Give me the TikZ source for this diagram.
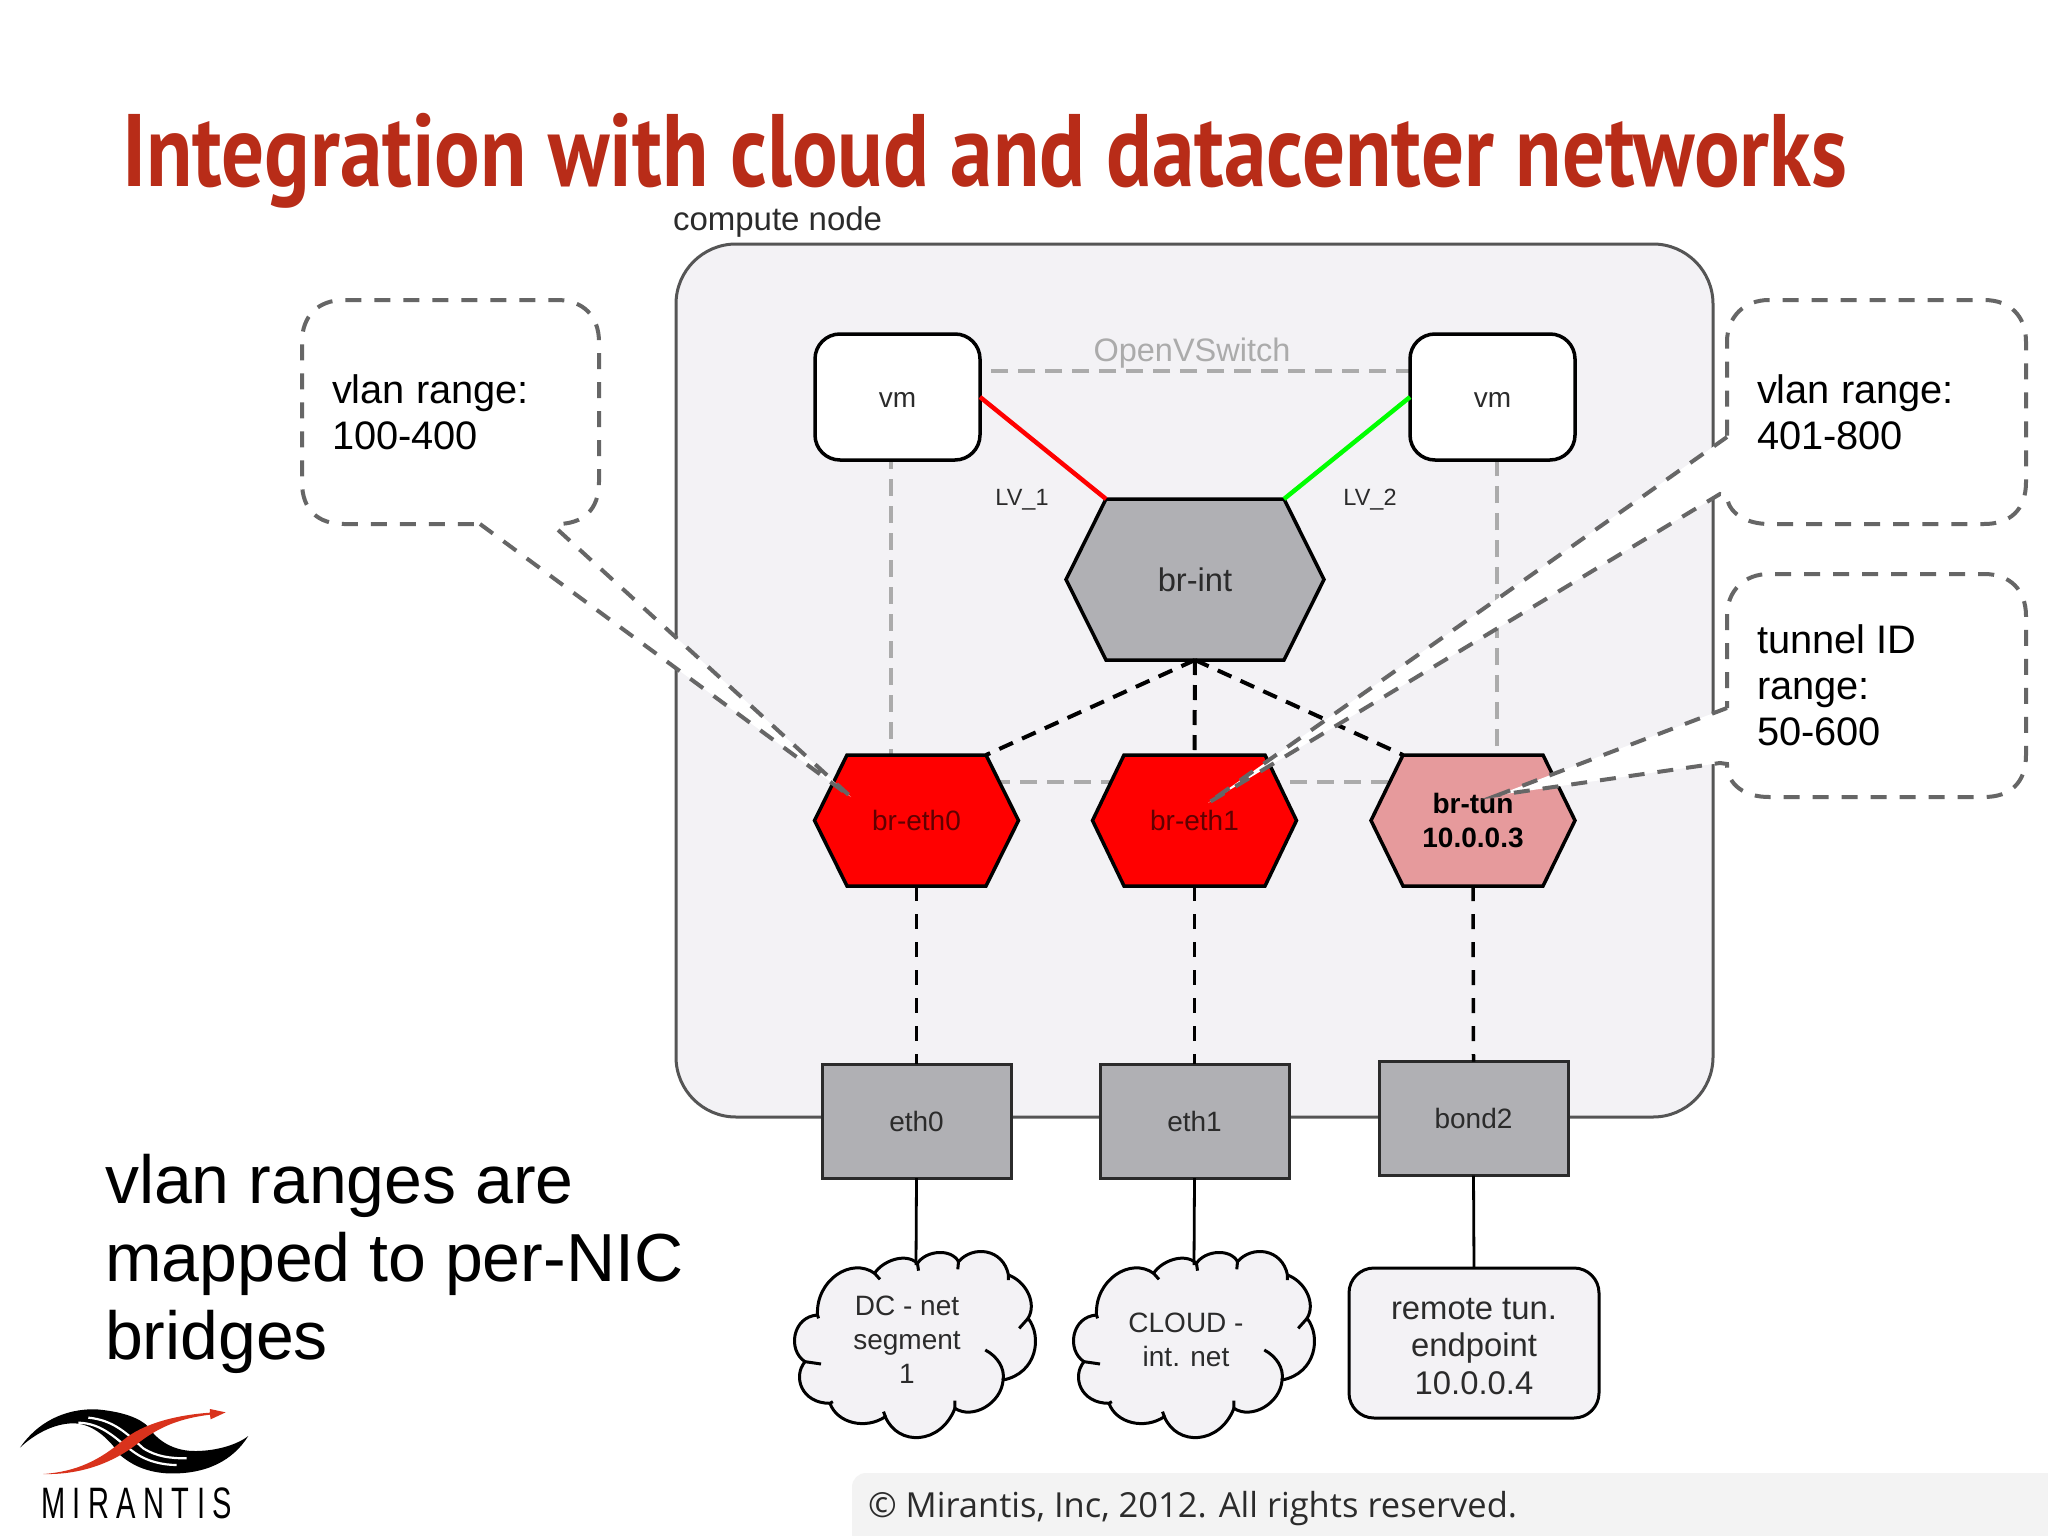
\documentclass[tikz,border=0pt]{standalone}
\usepackage{fontspec}
\setmainfont{Liberation Sans}
\newfontfamily\titlefont[FakeStretch=0.826]{PT Sans}
\newfontfamily\footfont{Open Sans}
\newfontfamily\logofont[FakeStretch=0.66,LetterSpace=17]{Liberation Sans}
\definecolor{panel}{HTML}{F3F2F5}
\definecolor{footgray}{HTML}{F3F3F3}
\definecolor{boxline}{HTML}{555555}
\definecolor{calloutgray}{HTML}{666666}
\definecolor{ovsgray}{HTML}{ABABAB}
\definecolor{titlered}{HTML}{B82C18}
\definecolor{swgray}{HTML}{B0B0B4}
\definecolor{dimtext}{HTML}{2B2B2B}
\definecolor{redtext}{HTML}{600000}
\definecolor{tunfill}{HTML}{E69A9C}
\definecolor{logored}{HTML}{D9321C}
\tikzset{
  every node/.style={inner sep=0pt,outer sep=0pt},
  sz/.style 2 args={font=\fontsize{#1}{#2}\selectfont},
  hexline/.style={draw=black,line width=3.5pt,line join=miter},
  nicbox/.style={draw=dimtext,line width=3pt,fill=swgray,text=dimtext,minimum width=189pt,minimum height=114pt,sz={28}{34}},
  vmbox/.style={draw=black,line width=3.5pt,fill=white,rounded corners=25pt,minimum width=165pt,minimum height=126pt,text=dimtext,text height=20pt,text depth=0pt,sz={28}{34}},
  ctext/.style={text=dimtext,align=center,sz={28}{34}},
  cline/.style={draw=black,line width=4pt,dash pattern=on 15pt off 10pt},
  cvert/.style={draw=black,line width=3.5pt,dash pattern=on 15pt off 13pt},
  callout/.style={draw=calloutgray,fill=white,line width=4pt,dash pattern=on 16pt off 13pt},
  note/.style={align=left,anchor=west,sz={39.8}{46},text=black},
  lvlab/.style={text=dimtext,sz={23.5}{28}},
  solidlink/.style={draw=black,line width=2.8pt},
  cloudpic/.pic={
    \begin{scope}[xscale=0.357,yscale=0.3333]
      \path[draw=black,line width=3pt,fill=panel]
        (265,160) .. controls (285,125) and (350,95) .. (385,130)
        .. controls (410,90) and (480,85) .. (500,125)
        .. controls (540,75) and (625,85) .. (640,165)
        .. controls (690,185) and (720,250) .. (695,295)
        .. controls (735,350) and (720,460) .. (625,480)
        .. controls (620,550) and (540,600) .. (490,565)
        .. controls (450,675) and (330,680) .. (295,590)
        .. controls (240,630) and (160,610) .. (140,550)
        .. controls (60,550) and (35,470) .. (70,425)
        .. controls (20,390) and (35,290) .. (105,285)
        .. controls (100,180) and (200,110) .. (265,160) -- cycle;
      \draw[black,line width=3pt] (385,130)--(388,152) (500,125)--(498,148)
        (640,165)--(640,180) (695,295)--(670,325)
        (575,390) .. controls (610,410) and (630,445) .. (625,480)
        (490,565)--(490,542) (295,590)--(290,575) (140,550)--(148,545)
        (70,425)--(115,432) (105,285)--(108,295) (265,160)--(280,178);
    \end{scope}
  }
}
% name, cx, cy, half width, half inner width, half height, fill, text options, text
\newcommand{\hexnode}[9]{%
  \draw[hexline,fill=#7] (#2-#4,#3) -- (#2-#5,#3-#6) -- (#2+#5,#3-#6) -- (#2+#4,#3) -- (#2+#5,#3+#6) -- (#2-#5,#3+#6) -- cycle;
  \node[minimum width=2*#5*1pt,minimum height=2*#6*1pt,align=center,#8] (#1) at (#2,#3) {#9};
}
\begin{document}
\begin{tikzpicture}[x=1pt,y=-1pt]
\useasboundingbox (0,0) rectangle (2048,1536);
\fill[white] (0,0) rectangle (2048,1536);
% footer
\fill[footgray,rounded corners=14pt] (852,1560) -- (852,1473) -- (2100,1473) -- (2100,1560) -- cycle;
\node[anchor=base west,font=\footfont\fontsize{34.5}{40}\selectfont,text=dimtext] (foot) at (868,1517) {© Mirantis, Inc, 2012. All rights reserved.};
% title
\node[anchor=base west,font=\titlefont\bfseries\fontsize{103}{110}\selectfont,text=titlered] (title) at (122,186) {Integration with cloud and datacenter networks};
% compute node
\node[anchor=base west,sz={33}{38},text=dimtext] (cnlab) at (673,230) {compute node};
\path[draw=boxline,fill=panel,line width=3pt,rounded corners=60pt] (676,244) rectangle (1713,1117);
% OVS
\coordinate (ovsA) at (891,371);
\coordinate (ovsB) at (1497,782);
\draw[ovsgray,line width=4pt,dash pattern=on 17pt off 10pt] (ovsA) rectangle (ovsB);
\node[sz={32.5}{38},text=ovsgray] (ovslab) at (1192,353) {OpenVSwitch};
% vms
\node[vmbox] (vma) at (897.5,397) {vm};
\node[vmbox] (vmb) at (1492.5,397) {vm};
% hexes
\hexnode{brint}{1195}{579.5}{129}{89}{80.5}{swgray}{text=dimtext,sz={32.7}{38}}{br-int}
\hexnode{etha}{916.5}{820.5}{102}{69.5}{65.5}{red}{text=redtext,sz={28}{34}}{br-eth0}
\hexnode{ethb}{1194.5}{820.5}{102}{70.5}{65.5}{red}{text=redtext,sz={28}{34}}{br-eth1}
\hexnode{tun}{1473}{820.5}{102}{70}{65.5}{tunfill}{text=black,font=\bfseries\fontsize{28}{34}\selectfont}{br-tun\\10.0.0.3}
% links to br-int
\draw[red,line width=4.5pt] (vma.east) -- (brint.north west);
\draw[green,line width=4.5pt] (vmb.west) -- (brint.north east);
\node[lvlab] (lva) at (1022,500) {LV\_1};
\node[lvlab] (lvb) at (1370,500) {LV\_2};
\draw[cline] (brint.south) -- (etha.north east);
\draw[cline] (brint.south) -- (ethb.north);
\draw[cline] (brint.south) -- (tun.north west);
% NICs
\node[nicbox] (nica) at (916.5,1121) {eth0};
\node[nicbox] (nicb) at (1194.5,1121) {eth1};
\node[nicbox] (nicc) at (1473.5,1118.5) {bond2};
\draw[cvert] (etha.south) -- (nica.north);
\draw[cvert] (ethb.south) -- (nicb.north);
\draw[cvert] (tun.south) -- (nicc.north);
% clouds
\pic at (780,1220) {cloudpic};
\pic at (1059,1220) {cloudpic};
\coordinate (dctop) at (916,1265);
\coordinate (cltop) at (1194,1265);
\node[ctext] (dc) at (907,1340) {DC - net\\segment\\1};
\node[ctext] (cl) at (1186,1340) {CLOUD -\\int. net};
\draw[solidlink] (nica.south) -- (dctop);
\draw[solidlink] (nicb.south) -- (cltop);
\node[draw=black,line width=3pt,fill=panel,rounded corners=25pt,minimum width=250pt,minimum height=150pt,align=center,text=dimtext,sz={32.8}{37.5}] (remote) at (1474,1343) {\rule{0pt}{28pt}remote tun.\\endpoint\\10.0.0.4};
\draw[solidlink] (nicc.south) -- (remote.north);
% callouts
\coordinate (tipa) at (851,797);
\coordinate (tipb) at (1208,803);
\coordinate (tipc) at (1498,795);
\draw[callout] (480,524) -- (tipa) -- (557,529) -- (557,524) .. controls (583,524) and (599,510) .. (599,482) -- (599,342) .. controls (599,316) and (583,300) .. (557,300) -- (344,300) .. controls (318,300) and (302,316) .. (302,342) -- (302,482) .. controls (302,510) and (318,524) .. (344,524) -- cycle;
\node[note] (na) at (332,412) {vlan range:\\100-400};
\draw[callout] (1727,437) -- (tipb) -- (1720,494) -- (1727,495) .. controls (1727,512) and (1745,524) .. (1769,524) -- (1984,524) .. controls (2010,524) and (2026,510) .. (2026,482) -- (2026,342) .. controls (2026,316) and (2010,300) .. (1984,300) -- (1769,300) .. controls (1745,300) and (1727,316) .. (1727,342) -- cycle;
\node[note] (nb) at (1757,412) {vlan range:\\401-800};
\draw[callout] (1727,708) -- (tipc) -- (1720,763) -- (1727,764) .. controls (1727,785) and (1745,797) .. (1769,797) -- (1984,797) .. controls (2010,797) and (2026,783) .. (2026,755) -- (2026,616) .. controls (2026,590) and (2010,574) .. (1984,574) -- (1769,574) .. controls (1745,574) and (1727,590) .. (1727,616) -- cycle;
\node[note] (nc) at (1757,685) {tunnel ID\\range:\\50-600};
% big text
\node[anchor=west,align=left,sz={68}{78},text=black] (big) at (105,1264) {vlan ranges are\\mapped to per-NIC\\bridges};
% logo
\begin{scope}[shift={(0,1380)},xscale=0.3333,yscale=0.3333]
  \fill[black] (60,203) .. controls (110,130) and (190,85) .. (290,88) .. controls (370,95) and (420,115) .. (445,140) .. controls (470,180) and (520,215) .. (590,213) .. controls (650,212) and (710,195) .. (745,168) .. controls (700,240) and (620,285) .. (500,280) .. controls (430,275) and (390,250) .. (360,225) .. controls (330,180) and (280,130) .. (220,130) .. controls (160,130) and (100,165) .. (60,203) -- cycle;
  \draw[white,line width=2.2pt] (235,128) .. controls (310,130) and (350,180) .. (400,215) .. controls (440,245) and (490,255) .. (530,255)
    (265,113) .. controls (340,120) and (380,160) .. (430,205) .. controls (470,230) and (510,235) .. (560,235);
  \fill[logored] (130,282) .. controls (230,275) and (300,240) .. (370,180) .. controls (430,130) and (530,105) .. (630,98) -- (630,87) -- (677,97) -- (632,118) -- (630,104) .. controls (540,115) and (480,140) .. (420,185) .. controls (340,250) and (240,285) .. (130,282) -- cycle;
\end{scope}
\node[anchor=base west,font=\logofont\fontsize{44}{48}\selectfont,text=black] (logotext) at (41,1518) {MIRANTIS};
\end{tikzpicture}
\end{document}
